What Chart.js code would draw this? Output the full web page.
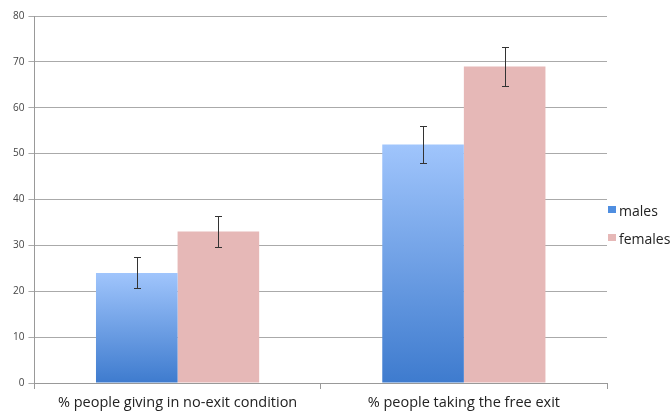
<!DOCTYPE html>
<html>
<head>
<meta charset="utf-8">
<script src="https://cdn.jsdelivr.net/npm/chart.js@4/dist/chart.umd.min.js"></script>
<style>
  body { margin: 0; background: #fff; }
  #wrap { width: 672px; height: 411px; }
</style>
</head>
<body>
<div id="wrap"><canvas id="myChart"></canvas></div>
<script>
const categories = ["% people giving in no-exit condition", "% people taking the free exit"];
const seriesNames = ["males", "females"];
const males = [24, 52];
const females = [33, 69];
const malesErr = [3.4, 4];
const femalesErr = [3.4, 4.3];
const yTicks = [0, 10, 20, 30, 40, 50, 60, 70, 80];

// blue gradient per bar, light at the top, dark at the bottom
function maleFill(ctx) {
  const chart = ctx.chart;
  const y = chart.scales.y;
  if (!y || ctx.dataIndex === undefined) return "#6a9be0";
  const top = y.getPixelForValue(males[ctx.dataIndex]);
  const bottom = y.getPixelForValue(0);
  if (!isFinite(top) || !isFinite(bottom) || top === bottom) return "#6a9be0";
  const g = chart.ctx.createLinearGradient(0, top, 0, bottom);
  g.addColorStop(0, "#a0c5fc");
  g.addColorStop(1, "#3e7bce");
  return g;
}

const errorBars = {
  id: "errorBars",
  afterDatasetsDraw(chart) {
    const c = chart.ctx;
    const y = chart.scales.y;
    const errs = [malesErr, femalesErr];
    c.save();
    c.strokeStyle = "#333";
    c.lineWidth = 1;
    chart.data.datasets.forEach(function (ds, i) {
      const meta = chart.getDatasetMeta(i);
      meta.data.forEach(function (bar, j) {
        const x = Math.round(bar.x) + 0.5;
        const hi = Math.round(y.getPixelForValue(ds.data[j] + errs[i][j])) + 0.5;
        const lo = Math.round(y.getPixelForValue(ds.data[j] - errs[i][j])) + 0.5;
        c.beginPath();
        c.moveTo(x, hi); c.lineTo(x, lo);
        c.moveTo(x - 3.5, hi); c.lineTo(x + 3.5, hi);
        c.moveTo(x - 3.5, lo); c.lineTo(x + 3.5, lo);
        c.stroke();
      });
    });
    c.restore();
  }
};

// simple legend to the right of the plot area
const sideLegend = {
  id: "sideLegend",
  afterDraw(chart) {
    const c = chart.ctx;
    const area = chart.chartArea;
    const colors = ["#4f8ee0", "#e6b8b7"];
    const midY = (area.top + area.bottom) / 2;
    c.save();
    c.font = "14px 'Open Sans'";
    c.textBaseline = "middle";
    seriesNames.forEach(function (name, i) {
      const yy = Math.round(midY + 26 + (i - 0.5) * 28);
      c.fillStyle = colors[i];
      c.fillRect(area.right + 1, yy - 6, 8, 7);
      c.fillStyle = "#222";
      c.fillText(name, area.right + 12, yy);
    });
    c.restore();
  }
};

new Chart("myChart", {
  type: "bar",
  data: {
    labels: categories,
    datasets: [{
      label: seriesNames[0],
      data: males,
      backgroundColor: maleFill
    }, {
      label: seriesNames[1],
      data: females,
      backgroundColor: "#e6b8b7"
    }]
  },
  options: {
    responsive: true,
    maintainAspectRatio: false,
    animation: false,
    categoryPercentage: 0.57,
    barPercentage: 1,
    layout: { padding: { top: 16, right: 65, left: 9, bottom: 0 } },
    plugins: {
      legend: { display: false },
      tooltip: { enabled: false }
    },
    scales: {
      x: {
        afterFit: function (axis) { axis.height = 28; },
        grid: { display: true, drawOnChartArea: false, offset: true, color: "#999", tickLength: 6 },
        border: { color: "#999" },
        ticks: { color: "#222", font: { family: "Open Sans", size: 14.5, lineHeight: 1 }, padding: 7 }
      },
      y: {
        min: 0,
        max: 80,
        afterBuildTicks: function (axis) {
          axis.ticks = yTicks.map(function (v) { return { value: v }; });
        },
        grid: { color: "#aaa", tickLength: 6 },
        border: { color: "#999" },
        ticks: { color: "#444", font: { family: "Open Sans", size: 10 }, padding: 4 }
      }
    }
  },
  plugins: [errorBars, sideLegend]
});
</script>
</body>
</html>
